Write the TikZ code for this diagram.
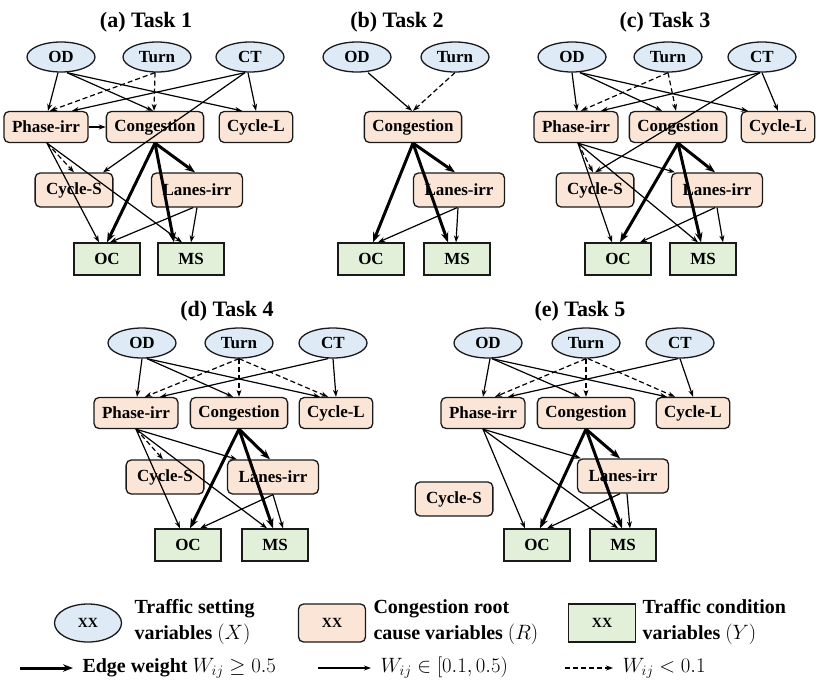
\documentclass[tikz,border=0pt]{standalone}
\usepackage{amsmath}
\usepackage{fontspec}
\setmainfont{Liberation Serif}
\usepackage{tikz}
\usetikzlibrary{shapes.geometric, arrows.meta}

\definecolor{setfill}{HTML}{DEEBF7}
\definecolor{causefill}{HTML}{FBE5D6}
\definecolor{condfill}{HTML}{E2F0D9}
\definecolor{inkline}{HTML}{1A1A1A}

\begin{document}
\begin{tikzpicture}[
	x=1pt, y=-1pt,
	>={Stealth[length=7pt,width=5pt]},
	setting/.style={draw=inkline, ellipse, fill=setfill, line width=1.3pt, minimum width=68pt, minimum height=30pt, inner sep=0pt, font=\bfseries\fontsize{17}{20}\selectfont},
	cause/.style={draw=inkline, rectangle, rounded corners=5pt, fill=causefill, line width=1.3pt, minimum height=31pt, inner xsep=8pt, inner ysep=0pt, font=\bfseries\fontsize{17}{20}\selectfont},
	subcause/.style={cause, minimum height=34pt, inner xsep=11pt},
	condition/.style={draw=inkline, rectangle, fill=condfill, line width=1.3pt, minimum width=66pt, minimum height=32pt, inner sep=0pt, font=\bfseries\fontsize{17}{20}\selectfont},
	title/.style={font=\bfseries\fontsize{22}{26}\selectfont},
	keyshape/.style={minimum width=67pt, minimum height=38pt, font=\bfseries\fontsize{14}{16}\selectfont},
	legend/.style={anchor=west, align=left, font=\bfseries\fontsize{20}{26}\selectfont},
	arrow/.style={->, line width=1.2pt},
	weak/.style={->, line width=1.2pt, dash pattern=on 5pt off 3pt},
	strong/.style={-{Stealth[length=10pt,width=7.5pt]}, line width=3pt}
	]
	\useasboundingbox (0,0) rectangle (822,691);
	
	% (a) Task 1
	\node[title] (ta) at (146,22) {(a) Task 1};
	\node[setting] (ODa) at (61,57) {OD};
	\node[setting] (Turna) at (157,57) {Turn};
	\node[setting] (CTa) at (250,57) {CT};
	\node[cause] (Pa) at (46,127) {Phase-irr};
	\node[cause] (Ca) at (155,127) {Congestion};
	\node[cause] (CLa) at (256,127) {Cycle-L};
	\node[subcause] (CSa) at (74,190) {Cycle-S};
	\node[subcause] (La) at (197,190) {Lanes-irr};
	\node[condition] (OCa) at (107,259) {OC};
	\node[condition] (MSa) at (191,259) {MS};
	
	\path[arrow]
	([xshift=-3]ODa.south) edge ([xshift=2]Pa.north)
	([xshift=6]ODa.south) edge ([xshift=-2]Ca.north)
	([xshift=6]ODa.south) edge ([xshift=-14]CLa.north)
	([xshift=-5]CTa.south) edge ([xshift=26]Pa.north)
	([xshift=-2]CTa.south) edge (CLa.north)
	([xshift=-5]CTa.south) edge ([xshift=29]CSa.north)
	(Pa.east) edge (Ca.west)
	([xshift=1]Pa.south) edge ([xshift=-8]OCa.north)
	([xshift=1]Pa.south) edge ([xshift=-9]MSa.north)
	([xshift=-4]La.south) edge ([xshift=3]OCa.north)
	(La.south) edge (MSa.north);
	\path[weak]
	([xshift=-2]Turna.south) edge ([xshift=4]Pa.north)
	([xshift=-2]Turna.south) edge ([xshift=-1]Ca.north)
	([xshift=1]Pa.south) edge (CSa.north);
	\path[strong]
	(Ca.south) edge (OCa.north)
	(Ca.south) edge ([xshift=-17]MSa.north)
	(Ca.south) edge ([xshift=-2]La.north);
	
	% (b) Task 2
	\node[title] (tb) at (397,22) {(b) Task 2};
	\node[setting] (ODb) at (357,57) {OD};
	\node[setting] (Turnb) at (455,57) {Turn};
	\node[cause] (Cb) at (413,127) {Congestion};
	\node[subcause] (Lb) at (459,190) {Lanes-irr};
	\node[condition] (OCb) at (371,259) {OC};
	\node[condition] (MSb) at (457,259) {MS};
	
	\path[arrow]
	([xshift=11]ODb.south) edge ([xshift=-1]Cb.north)
	([xshift=-2]Lb.south) edge ([xshift=7]OCb.north)
	([xshift=-1]Lb.south) edge ([xshift=-1]MSb.north);
	\path[weak]
	(Turnb.south) edge (Cb.north);
	\path[strong]
	(Cb.south) edge ([xshift=2]OCb.north)
	(Cb.south) edge ([xshift=-9]MSb.north)
	(Cb.south) edge ([xshift=-4]Lb.north);
	
	% (c) Task 3
	\node[title] (tc) at (665,22) {(c) Task 3};
	\node[setting] (ODc) at (572,57) {OD};
	\node[setting] (Turnc) at (668,57) {Turn};
	\node[setting] (CTc) at (762,57) {CT};
	\node[cause] (Pc) at (576,127) {Phase-irr};
	\node[cause] (Cc) at (678,127) {Congestion};
	\node[cause] (CLc) at (778,127) {Cycle-L};
	\node[subcause] (CSc) at (595,190) {Cycle-S};
	\node[subcause] (Lc) at (717,190) {Lanes-irr};
	\node[condition] (OCc) at (618,259) {OC};
	\node[condition] (MSc) at (703,259) {MS};
	
	\path[arrow]
	(ODc.south) edge ([xshift=1]Pc.north)
	([xshift=8]ODc.south) edge ([xshift=-16]Cc.north)
	([xshift=8]ODc.south) edge ([xshift=-30]CLc.north)
	([xshift=-2]CTc.south) edge ([xshift=25]Pc.north)
	(CTc.south) edge (CLc.north)
	([xshift=-2]CTc.south) edge (CSc.north)
	([xshift=2]Pc.south) edge ([xshift=-6]OCc.north)
	([xshift=2]Pc.south) edge ([xshift=-5]MSc.north)
	([xshift=2]Pc.south) edge ([xshift=-42]Lc.north)
	([xshift=-2]Lc.south) edge ([xshift=22]OCc.north)
	(Lc.south) edge ([xshift=20]MSc.north);
	\path[weak]
	(Turnc.south) edge ([xshift=5]Pc.north)
	(Turnc.south) edge ([xshift=-2]Cc.north)
	([xshift=2]Pc.south) edge ([xshift=-2]CSc.north);
	\path[strong]
	(Cc.south) edge ([xshift=2]OCc.north)
	(Cc.south) edge ([xshift=-2]MSc.north)
	(Cc.south) edge ([xshift=-2]Lc.north);
	
	% (d) Task 4
	\node[title] (td) at (227,311) {(d) Task 4};
	\node[setting] (ODd) at (142,343) {OD};
	\node[setting] (Turnd) at (239,343) {Turn};
	\node[setting] (CTd) at (333,343) {CT};
	\node[cause] (Pd) at (136,413) {Phase-irr};
	\node[cause] (Cd) at (239,413) {Congestion};
	\node[cause] (CLd) at (336,413) {Cycle-L};
	\node[subcause] (CSd) at (165,477) {Cycle-S};
	\node[subcause] (Ld) at (273,477) {Lanes-irr};
	\node[condition] (OCd) at (188,545) {OC};
	\node[condition] (MSd) at (275,545) {MS};
	
	\path[arrow]
	(ODd.south) edge ([xshift=1]Pd.north)
	([xshift=5]ODd.south) edge ([xshift=-6]Cd.north)
	([xshift=5]ODd.south) edge ([xshift=-16]CLd.north)
	([xshift=-5]CTd.south) edge ([xshift=24]Pd.north)
	(CTd.south) edge (CLd.north)
	(Pd.south) edge ([xshift=-8]OCd.north)
	(Pd.south) edge ([xshift=-8]MSd.north)
	(Pd.south) edge ([xshift=-36]Ld.north)
	(Ld.south) edge ([xshift=12]OCd.north)
	(Ld.south) edge ([xshift=8]MSd.north);
	\path[weak]
	(Turnd.south) edge ([xshift=9]Pd.north)
	(Turnd.south) edge (Cd.north)
	(Turnd.south) edge ([xshift=-8]CLd.north)
	(Pd.south) edge ([xshift=-2]CSd.north);
	\path[strong]
	(Cd.south) edge ([xshift=2]OCd.north)
	(Cd.south) edge ([xshift=-2]MSd.north)
	(Cd.south) edge ([xshift=-3]Ld.north);
	
	% (e) Task 5
	\node[title] (te) at (580,311) {(e) Task 5};
	\node[setting] (ODe) at (488,343) {OD};
	\node[setting] (Turne) at (586,343) {Turn};
	\node[setting] (CTe) at (680,343) {CT};
	\node[cause] (Pe) at (483,413) {Phase-irr};
	\node[cause] (Ce) at (586,413) {Congestion};
	\node[cause] (CLe) at (693,413) {Cycle-L};
	\node[subcause] (CSe) at (454,499) {Cycle-S};
	\node[subcause] (Le) at (623,476) {Lanes-irr};
	\node[condition] (OCe) at (537,545) {OC};
	\node[condition] (MSe) at (623,545) {MS};
	
	\path[arrow]
	([xshift=2]ODe.south) edge (Pe.north)
	([xshift=4]ODe.south) edge ([xshift=-6]Ce.north)
	([xshift=4]ODe.south) edge ([xshift=-26]CLe.north)
	([xshift=-2]CTe.south) edge ([xshift=25]Pe.north)
	(CTe.south) edge (CLe.north)
	(Pe.south) edge ([xshift=-12]OCe.north)
	(Pe.south) edge ([xshift=-5]MSe.north)
	(Pe.south) edge ([xshift=-42]Le.north)
	([xshift=-3]Le.south) edge ([xshift=10]OCe.north)
	([xshift=4]Le.south) edge ([xshift=7]MSe.north);
	\path[weak]
	(Turne.south) edge ([xshift=12]Pe.north)
	(Turne.south) edge (Ce.north)
	([xshift=2]Turne.south) edge ([xshift=-18]CLe.north);
	\path[strong]
	(Ce.south) edge ([xshift=3]OCe.north)
	(Ce.south) edge ([xshift=-1]MSe.north)
	(Ce.south) edge ([xshift=-3]Le.north);
	
	% Legend
	\node[setting, keyshape] (keyX) at (88,623) {XX};
	\node[cause, keyshape] (keyR) at (332,623) {XX};
	\node[condition, keyshape] (keyY) at (602,623) {XX};
	\node[legend] (txtX) at (131,622) {Traffic setting\\variables $(X)$};
	\node[legend] (txtR) at (370,622) {Congestion root\\cause variables $(R)$};
	\node[legend] (txtY) at (639,622) {Traffic condition\\variables $(Y)$};
	
	\node[legend] (txtS) at (79,668) {Edge weight $W_{ij}\geq 0.5$};
	\node[legend] (txtA) at (377,668) {$W_{ij}\in[0.1,0.5)$};
	\node[legend] (txtW) at (619,668) {$W_{ij}<0.1$};
	\coordinate (keyS) at (20,668);
	\coordinate (keyA) at (318,668);
	\coordinate (keyW) at (565,668);
	\draw[strong] (keyS) -- ([xshift=-6]txtS.west);
	\draw[arrow] (keyA) -- ([xshift=-6]txtA.west);
	\draw[weak] (keyW) -- ([xshift=-6]txtW.west);
	
\end{tikzpicture}
\end{document}
